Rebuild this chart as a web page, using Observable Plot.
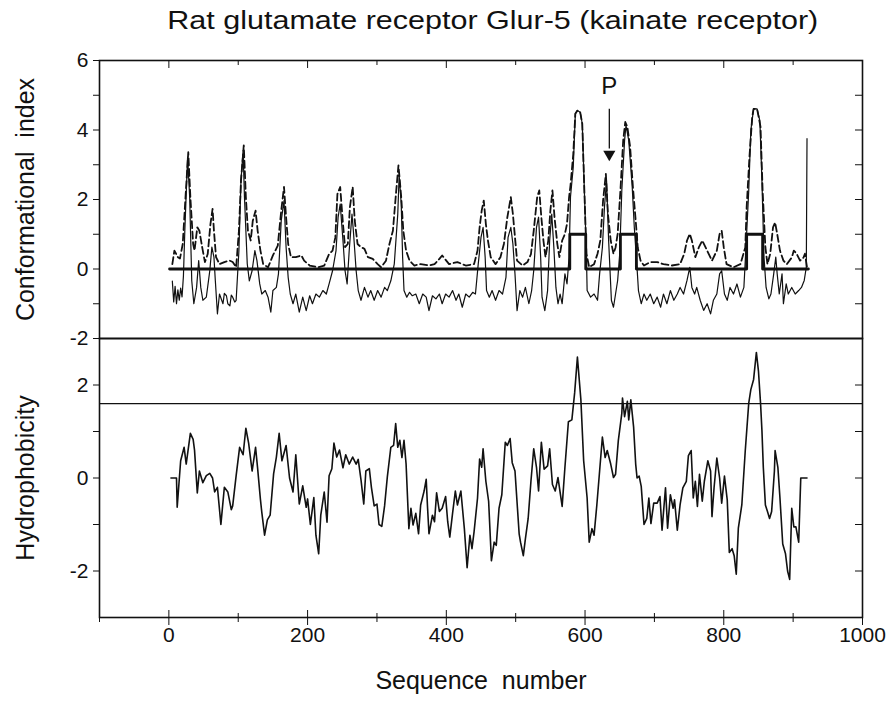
<!DOCTYPE html>
<html>
<head>
<meta charset="utf-8">
<script src="https://cdn.jsdelivr.net/npm/d3@7"></script>
<script src="https://cdn.jsdelivr.net/npm/@observablehq/plot@0.6"></script>
<style>
  html, body { margin: 0; padding: 0; background: white; }
  #wrap { position: relative; width: 888px; height: 706px; background: white; overflow: hidden; }
  #title { position: absolute; left: 93px; width: 800px; top: 6px; text-align: center; }
  #title span { display: inline-block; transform: scaleX(1.22); transform-origin: center;
           font-family: "Liberation Sans", Arial, sans-serif; font-size: 25px; color: #111; }
  #top { position: absolute; left: 0; top: 40px; z-index: 2; }
  #bottom { position: absolute; left: 0; top: 338px; z-index: 1; }
  svg { overflow: visible; }
</style>
</head>
<body>
<div id="wrap">
  <div id="title"><span>Rat glutamate receptor Glur-5 (kainate receptor)</span></div>
  <div id="top"></div>
  <div id="bottom"></div>
</div>
<script>
// ---- Conformational index (solid line) ----
const seqA = [5,7,9,11,13,15,17,19,21,23,27,30,33,36,40,43,46,49,54,59,62,65,67,70,73,78,80,83,85,88,90,92,95,97,
  101,104,107,109,113,116,120,124,127,131,134,139,143,147,150,155,158,162,166,169,172,175,179,183,188,193,198,203,207,212,217,222,227,231,236,241,244,247,251,254,257,260,264,266,270,273,277,282,287,291,296,301,306,311,315,320,325,330,332,335,337,339,343,347,351,356,361,366,371,375,380,385,390,394,399,404,409,414,418,423,428,433,438,442,446,450,453,456,458,462,466,471,476,481,486,489,493,496,499,502,506,510,514,519,523,526,530,533,536,538,542,546,549,552,555,558,561,564,567,571,574,577,579,583,586,589,593,596,599,602,603,608,613,618,621,625,628,631,634,638,641,644,647,650,653,657,659,663,668,671,674,677,681,685,689,694,699,704,709,713,718,723,728,733,737,742,747,751,754,758,761,766,771,776,781,785,790,794,797,801,805,809,814,819,824,829,832,836,839,843,848,852,855,858,861,865,868,872,875,877,880,884,886,890,893,898,903,908,912,916,919,920];
const confA = [-0.35,-0.95,-0.5,-1.0,-0.6,-0.9,-0.55,-0.8,-0.2,1.1,3.22,2.07,-0.34,-1.0,-0.53,0.24,-0.53,-0.9,-0.81,-0.05,0.63,0.34,-0.34,-1.29,-0.72,-1.0,-0.7,-0.77,-1.0,-1.06,-0.75,-0.81,-0.95,-0.9,
  0.53,2.55,3.41,2.07,0.15,-0.34,-0.05,0.53,0.24,-0.43,-0.72,-0.62,-0.81,-1.24,-0.62,-0.53,-0.14,1.39,1.97,0.63,-0.24,-0.72,-1.0,-0.72,-1.24,-0.81,-1.2,-0.77,-1.0,-0.72,-0.81,-0.62,-0.72,-0.43,-0.05,0.53,1.49,1.87,0.82,-0.05,-0.43,0.53,1.58,1.1,-0.05,-0.62,-0.9,-0.53,-0.81,-0.62,-0.9,-0.62,-0.81,-0.53,-0.62,-0.34,0.15,1.58,2.7,1.87,0.34,-0.62,-0.81,-0.67,-0.77,-0.72,-1.0,-0.72,-0.81,-1.2,-0.77,-0.86,-0.72,-1.0,-0.72,-0.81,-0.62,-0.9,-0.72,-1.1,-0.72,-0.81,-0.67,-0.72,0.14,0.91,1.2,0.34,-0.62,-0.81,-0.62,-0.9,-0.62,-0.72,-0.24,0.91,1.2,0.72,-0.14,-1.2,-0.62,-0.81,-0.53,-1.0,-0.62,-0.05,1.2,1.49,0.34,-0.81,-1.2,-0.62,0.82,1.58,0.63,-0.53,-1.0,-0.72,-1.0,-0.14,-0.43,0.34,2.07,2.93,4.47,4.56,4.51,4.18,2.26,0.4,-0.62,-0.81,-0.72,-0.9,-0.14,0.62,1.78,2.55,0.82,-0.9,-1.1,-0.72,-0.33,0.44,2.26,3.7,4.13,3.7,2.36,1.2,0.34,-0.62,-1.0,-0.72,-0.9,-0.72,-1.0,-0.81,-1.1,-0.72,-1.0,-0.62,-0.9,-0.72,-0.53,-0.72,-0.33,0.05,-0.53,-0.72,-0.53,-0.9,-1.19,-1.0,-1.29,-0.9,-0.72,-0.14,-0.05,-0.72,-0.9,-0.53,-0.72,-0.43,-0.81,-0.53,0.62,2.26,3.99,4.61,4.61,4.27,2.55,0.34,-0.53,-0.86,-0.72,-0.14,0.34,-0.14,-0.72,-0.14,-1.0,-0.43,-0.72,-0.53,-0.72,-0.62,-0.53,-0.33,0.05,3.75];

// ---- Conformational index (dashed line) ----
const seqB = [5,8,13,16,20,24,28,31,35,37,41,44,48,52,56,60,63,65,68,73,80,88,92,97,101,104,108,111,114,118,121,125,128,132,136,143,150,157,162,166,169,172,176,183,191,195,203,215,224,231,236,240,243,247,251,254,258,261,265,268,272,277,282,287,294,301,306,313,318,323,327,331,335,338,342,347,354,363,375,383,390,394,404,416,428,440,445,448,451,454,457,460,464,471,478,483,488,493,496,499,502,510,517,522,526,531,534,537,540,543,547,550,553,556,560,563,567,571,574,577,579,583,586,589,593,596,599,602,606,613,618,622,626,630,633,637,641,644,647,651,655,658,661,665,669,673,676,680,685,694,704,713,725,737,743,747,751,754,759,764,769,776,783,790,794,797,800,804,814,824,831,833,837,841,843,848,853,856,860,863,867,871,874,877,881,886,891,898,901,905,910,915,917,920];
const confB = [0.14,0.53,0.34,0.3,0.72,2.07,3.36,2.07,0.72,0.53,1.2,1.1,0.63,0.2,0.43,1.3,1.73,1.1,0.34,0.14,0.2,0.24,0.2,0.05,1.1,2.55,3.56,2.07,1.1,0.82,1.39,1.68,1.1,0.53,0.14,0.05,0.39,0.67,1.68,2.36,1.49,0.72,0.34,0.34,0.39,0.24,0.1,0.05,0.1,0.43,0.53,0.91,2.16,2.36,1.3,0.63,0.72,1.78,2.36,1.39,0.72,0.63,0.58,0.34,0.29,0.14,0.05,0.24,0.72,1.1,2.07,2.98,2.07,1.1,0.53,0.24,0.1,0.14,0.1,0.14,0.29,0.39,0.14,0.2,0.1,0.14,0.53,1.2,1.68,1.97,1.3,0.82,0.34,0.14,0.34,0.72,1.49,2.07,1.58,0.91,0.24,0.1,0.2,0.43,1.1,2.07,2.26,1.49,0.82,0.34,0.82,1.68,2.26,1.49,0.72,0.34,0.82,1.01,1.3,2.07,2.4,3.3,4.47,4.56,4.51,4.18,2.26,0.44,0.05,0.14,0.44,0.82,1.97,2.74,1.58,0.82,0.44,0.62,1.01,2.26,3.7,4.23,4.09,3.51,2.36,1.4,0.62,0.24,0.1,0.2,0.2,0.14,0.1,0.14,0.44,0.82,1.01,0.82,0.34,0.62,0.82,0.53,0.24,0.53,1.01,1.1,0.62,0.14,0.05,0.14,0.62,1.78,3.22,4.37,4.61,4.61,4.09,2.26,0.62,0.14,0.44,1.2,1.34,1.01,0.53,0.24,0.14,0.33,0.53,0.44,0.24,0.33,0.44,0.05];

// ---- Predicted transmembrane segments (thick step line) ----
const tmStart = [578, 651, 833];
const tmEnd = [601, 674, 856];
const seqFirst = 1, seqLast = 922;
const pSite = 635;

// ---- Hydrophobicity ----
const seqH = [3,11,12,17,22,25,31,35,37,41,44,49,54,59,63,66,70,75,80,85,90,92,97,102,107,111,115,120,125,128,132,134,138,142,146,151,155,159,163,169,174,179,183,188,193,198,200,204,209,212,216,219,224,228,231,235,238,242,246,251,255,260,265,270,273,277,281,284,289,292,296,300,303,307,311,315,320,324,327,
  330,333,336,339,342,346,349,352,356,360,363,368,371,373,375,380,383,386,390,394,399,402,405,409,413,416,421,426,430,434,437,440,445,448,451,453,457,461,465,469,472,476,480,485,488,492,495,499,505,507,511,514,518,522,526,530,533,537,541,546,549,553,557,561,567,571,576,581,585,589,594,598,603,606,610,613,617,621,625,629,632,637,641,644,648,653,654,657,661,663,666,670,673,
  675,678,681,685,689,692,695,699,704,708,711,716,719,723,727,729,733,737,741,746,749,753,756,759,762,765,769,772,777,781,783,786,790,794,797,801,805,808,812,815,818,821,826,831,836,839,843,847,850,853,855,857,860,863,866,869,873,874,878,881,885,889,892,895,898,901,904,908,911,920];
const hydro = [0,0,-0.63,0.37,0.66,0.3,0.96,0.83,0.6,-0.32,0.15,-0.1,0.05,0.1,0.0,-0.3,-0.2,-1.0,-0.2,-0.3,-0.68,-0.6,0.05,0.66,0.5,1.07,0.75,0.15,0.66,0.2,-0.46,-0.74,-1.23,-0.9,-0.8,0.09,0.45,0.96,0.37,0.7,0.0,-0.3,0.5,-0.56,-0.17,-0.63,-0.45,-1.0,-0.42,-1.23,-1.63,-0.8,-0.3,-0.95,0.05,0.2,0.75,0.45,0.6,0.22,0.5,0.3,0.45,0.3,0.4,-0.04,-0.56,0.15,0.2,-0.2,-0.6,-0.56,-1.0,-1.04,-0.6,0.03,0.66,0.7,1.17,
  0.66,0.81,0.44,0.81,0.3,-1.09,-0.65,-1.01,-0.76,-1.2,-0.58,-0.28,-0.03,-0.65,-1.2,-0.8,-0.94,-0.32,-0.72,-0.65,-0.4,-0.94,-1.27,-0.76,-0.28,-0.58,-0.28,-1.09,-1.93,-1.23,-1.52,-1.16,-0.43,0.41,0.23,0.63,-0.07,-0.5,-1.78,-1.38,-1.45,-0.65,-0.36,0.77,0.7,0.85,0.33,0.15,-1.2,-1.38,-1.67,-1.31,-0.87,-0.07,0.63,0.23,-0.28,0.77,0.19,0.26,0.63,-0.14,-0.28,0.01,-0.61,0.23,1.21,1.25,1.83,2.6,1.68,0.37,-0.43,-1.38,-1.09,-1.23,-0.58,0.15,0.88,0.44,0.59,0.3,0.01,0.08,0.81,1.39,1.72,1.32,1.65,1.25,1.68,1.1,0.3,
  0.0,0.04,-0.18,-1.0,-0.87,-0.43,-0.98,-0.54,-0.54,-0.4,-1.12,-0.21,-1.08,-0.36,-0.65,-0.47,-1.12,-0.58,-0.21,-0.07,0.48,0.59,-0.43,-0.07,-0.61,0.08,-0.5,-0.07,0.37,0.15,-0.83,-0.21,0.43,0.0,-0.54,0.04,-0.47,-1.6,-1.52,-1.67,-2.07,-1.08,-0.58,0.59,1.61,1.9,2.12,2.7,2.3,1.61,1.03,0.23,-0.58,-0.72,-0.87,-0.72,0.15,0.59,0.23,-0.43,-1.42,-1.63,-2.0,-2.18,-0.65,-1.05,-1.05,-1.38,0.0,0.0];
const threshold = 1.6;

// ---- tick values and labels ----
const xMajor = [0, 200, 400, 600, 800, 1000];
const xMinor = [-100, 100, 300, 500, 700, 900];
const yTopTicks = [-2, -1, 0, 1, 2, 3, 4, 5, 6];
const yBotTicks = [-2, -1, 0, 1, 2];
const labelTopY = "Conformational  index";
const labelBotY = "Hydrophobicity";
const labelX = "Sequence  number";

// ---- tables ----
const solid = seqA.map((s, i) => ({seq: s, v: confA[i]}));
const dashed = seqB.map((s, i) => ({seq: s, v: confB[i]}));
const step = [{seq: seqFirst, v: 0}];
tmStart.forEach((s, i) => {
  step.push({seq: s, v: 0}, {seq: s, v: 1}, {seq: tmEnd[i], v: 1}, {seq: tmEnd[i], v: 0});
});
step.push({seq: seqLast, v: 0});
const hyd = seqH.map((s, i) => ({seq: s, v: hydro[i]}));

const font = '"Liberation Sans", Arial, sans-serif';
const ink = "#111";
const common = {
  width: 888, marginLeft: 99, marginRight: 26,
  style: {fontFamily: font, fontSize: "21px", color: ink, background: "transparent", overflow: "visible"},
  x: {domain: [-100, 1000]}
};
const blank = () => "";
const even = d => (d % 2 === 0 ? String(d) : "");

const topPlot = Plot.plot({
  ...common,
  height: 298, marginTop: 20, marginBottom: 0,
  y: {domain: [-2, 6]},
  marks: [
    Plot.line(step, {x: "seq", y: "v", stroke: ink, strokeWidth: 2.8}),
    Plot.line(dashed, {x: "seq", y: "v", stroke: ink, strokeWidth: 1.8, strokeDasharray: "7,3.5"}),
    Plot.line(solid, {x: "seq", y: "v", stroke: ink, strokeWidth: 1.2}),
    Plot.ruleX([pSite], {x: d => d, y1: 4.6, y2: 3.45, stroke: ink, strokeWidth: 1.3}),
    Plot.dot([pSite], {x: d => d, y: 3.3, symbol: "triangle", rotate: 180, r: 4.5, fill: ink, stroke: null}),
    Plot.text(["P"], {x: pSite, y: 5.25, text: d => d, fontSize: 24, fill: ink}),
    Plot.axisY({ticks: yTopTicks, tickFormat: even, tickSize: 6, tickPadding: 5, fontSize: 21, label: null}),
    Plot.axisY({anchor: "left", frameAnchor: "right", ticks: yTopTicks.slice(1, -1), tickSize: 7, tickFormat: blank, label: null}),
    Plot.axisX({anchor: "bottom", frameAnchor: "top", ticks: xMajor, tickSize: 8, tickFormat: blank, label: null}),
    Plot.axisX({anchor: "bottom", frameAnchor: "top", ticks: xMinor, tickSize: 5, tickFormat: blank, label: null}),
    Plot.text([labelTopY], {text: d => d, frameAnchor: "left", textAnchor: "middle", lineAnchor: "top", dx: -83, rotate: -90, fontSize: 25, fill: ink}),
    Plot.frame({stroke: ink, strokeWidth: 1.6})
  ]
});

const botPlot = Plot.plot({
  ...common,
  height: 368, marginTop: 0, marginBottom: 89,
  y: {domain: [-3, 3]},
  marks: [
    Plot.ruleY([threshold], {stroke: ink, strokeWidth: 1.4}),
    Plot.line(hyd, {x: "seq", y: "v", stroke: ink, strokeWidth: 1.6}),
    Plot.axisY({ticks: yBotTicks, tickFormat: even, tickSize: 6, tickPadding: 5, fontSize: 21, label: null}),
    Plot.axisY({anchor: "left", frameAnchor: "right", ticks: yBotTicks, tickSize: 7, tickFormat: blank, label: null}),
    Plot.axisX({ticks: xMajor, tickSize: 8, tickPadding: 2, fontSize: 21, tickFormat: d => String(d), label: null}),
    Plot.axisX({ticks: xMinor, tickSize: 5, tickFormat: blank, label: null}),
    Plot.axisX({anchor: "top", frameAnchor: "bottom", ticks: xMajor, tickSize: 8, tickFormat: blank, label: null}),
    Plot.axisX({anchor: "top", frameAnchor: "bottom", ticks: xMinor, tickSize: 5, tickFormat: blank, label: null}),
    Plot.text([labelBotY], {text: d => d, frameAnchor: "left", textAnchor: "middle", lineAnchor: "top", dx: -83, rotate: -90, fontSize: 25, fill: ink}),
    Plot.text([labelX], {text: d => d, frameAnchor: "bottom", textAnchor: "middle", lineAnchor: "middle", dy: 63, fontSize: 25, fill: ink}),
    Plot.frame({stroke: ink, strokeWidth: 1.6})
  ]
});

document.getElementById("top").appendChild(topPlot);
document.getElementById("bottom").appendChild(botPlot);
</script>
</body>
</html>
